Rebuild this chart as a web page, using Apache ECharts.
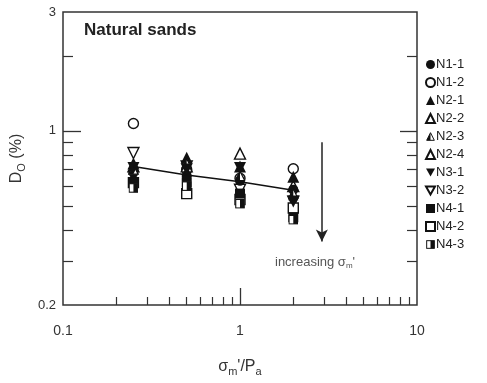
<!DOCTYPE html>
<html><head><meta charset="utf-8">
<script src="https://cdn.jsdelivr.net/npm/echarts@6/dist/echarts.min.js"></script>
<style>html,body{margin:0;padding:0;background:#fff}#c{width:487px;height:383px}</style>
</head><body><div id="c"></div>
<script>
// ---- data ----
const sigma = [0.25, 0.5, 1, 2];
const N1_1 = [0.68, 0.66, 0.63, 0.58];
const N1_2 = [1.07, 0.70, 0.645, 0.705];
const N2_1 = [0.74, 0.78, 0.72, 0.655];
const N2_2 = [0.72, 0.72, 0.81, 0.60];
const N2_3 = [0.70, 0.74, 0.66, 0.56];
const N2_4 = [0.70, 0.68, 0.60, 0.55];
const N3_1 = [0.71, 0.70, 0.71, 0.52];
const N3_2 = [0.815, 0.72, 0.58, 0.52];
const N4_1 = [0.62, 0.62, 0.56, 0.45];
const N4_2 = [0.62, 0.56, 0.53, 0.49];
const N4_3 = [0.59, 0.60, 0.51, 0.44];
const trendX = [0.25, 0.5, 1, 2];
const trendY = [0.72, 0.665, 0.625, 0.578];
const xMajorLabels = [0.1, 1, 10];
const xMinorTicks = [0.2,0.3,0.4,0.5,0.6,0.7,0.8,0.9,2,3,4,5,6,7,8,9];
const yMajorLabels = [0.2, 1, 3];
const yMinorTicks = [0.3,0.4,0.5,0.6,0.7,0.8,0.9,2];
const arrowX = 2.9, arrowTop = 0.90, arrowBottom = 0.36;

const K = '#111';
const FONT = 'Liberation Sans, Arial';
function svg(s){ return 'image://data:image/svg+xml;charset=utf-8,' + encodeURIComponent("<svg xmlns='http://www.w3.org/2000/svg' viewBox='0 0 20 20'>" + s + "</svg>"); }
const halfTri = svg("<polygon points='10,1.5 18.5,18.5 1.5,18.5' fill='white' stroke='#111' stroke-width='2.2'/><polygon points='10,1.5 10,18.5 1.5,18.5' fill='#111'/>");
const halfRect = svg("<rect x='1.5' y='1.5' width='17' height='17' fill='white' stroke='#111' stroke-width='2.2'/><rect x='10' y='1.5' width='8.5' height='17' fill='#111'/>");
const downTri = 'path://M0,0L10,0L5,9Z';

const defs = [
  {name:'N1-1', d:N1_1, sym:'circle', size:10, fill:K},
  {name:'N1-2', d:N1_2, sym:'circle', size:10, fill:'#fff'},
  {name:'N2-1', d:N2_1, sym:'triangle', size:12, fill:K},
  {name:'N2-2', d:N2_2, sym:'triangle', size:11, fill:'#fff'},
  {name:'N2-3', d:N2_3, sym:halfTri, size:11, fill:null},
  {name:'N2-4', d:N2_4, sym:'triangle', size:8, fill:'#fff'},
  {name:'N3-1', d:N3_1, sym:downTri, size:12, fill:K},
  {name:'N3-2', d:N3_2, sym:downTri, size:11, fill:'#fff'},
  {name:'N4-1', d:N4_1, sym:'rect', size:10, fill:K},
  {name:'N4-2', d:N4_2, sym:'rect', size:10, fill:'#fff'},
  {name:'N4-3', d:N4_3, sym:halfRect, size:10, fill:null}
];

const series = defs.map(s => ({
  name: s.name, type: 'scatter', xAxisIndex: 0, yAxisIndex: 0,
  symbol: s.sym, symbolSize: s.size,
  data: sigma.map((x, i) => [x, s.d[i]]),
  itemStyle: s.fill ? {color: s.fill, borderColor: K, borderWidth: s.fill === K ? 0 : 1.4, opacity: 1} : {opacity: 1},
  emphasis: {disabled: true}, z: s.fill === '#fff' ? 2 : 3
}));
series.push({
  type: 'line', xAxisIndex: 0, yAxisIndex: 0, data: trendX.map((x, i) => [x, trendY[i]]),
  symbol: 'none', lineStyle: {color: K, width: 1.5}, z: 4, silent: true,
  markLine: {
    silent: true, symbol: ['none', 'arrow'], symbolSize: [9, 12],
    lineStyle: {color: '#222', width: 1.5, type: 'solid'}, label: {show: false},
    data: [[{coord: [arrowX, arrowTop]}, {coord: [arrowX, arrowBottom]}]]
  }
});

const common = {type: 'log', logBase: 10, min: 0.1, max: 10};
const commonY = {type: 'log', logBase: 10, min: 0.2, max: 3};
const chart = echarts.init(document.getElementById('c'));
chart.setOption({
  animation: false,
  grid: {left: 63, right: 70, top: 12, bottom: 78, show: true, borderColor: '#333', borderWidth: 1.5, backgroundColor: '#fff'},
  xAxis: [
    Object.assign({}, common, {position: 'bottom', splitLine: {show: false}, axisLine: {show: false},
      axisTick: {show: true, inside: true, length: 17, lineStyle: {color: '#333', width: 1.3}, customValues: [1]},
      axisLabel: {customValues: xMajorLabels, color: '#333', fontSize: 14, margin: 19, fontFamily: FONT, formatter: v => String(v)},
      name: '{s|σ}{sub|m}{s|\'/P}{sub|a}', nameLocation: 'middle', nameGap: 52,
      nameTextStyle: {rich: {s: {fontSize: 16, color: '#333', fontFamily: FONT}, sub: {fontSize: 11, color: '#333', verticalAlign: 'bottom', padding: [9, 0, 0, 0], fontFamily: FONT}}}
    }),
    Object.assign({}, common, {position: 'bottom', splitLine: {show: false}, axisLine: {show: false},
      axisTick: {show: true, inside: true, length: 8, lineStyle: {color: '#333', width: 1.2}, customValues: xMinorTicks},
      axisLabel: {show: false}})
  ],
  yAxis: [
    Object.assign({}, commonY, {position: 'left', splitLine: {show: false}, axisLine: {show: false},
      axisTick: {show: true, inside: true, length: 18, lineStyle: {color: '#333', width: 1.3}, customValues: [1]},
      axisLabel: {customValues: yMajorLabels, color: '#333', fontSize: 13, margin: 7, fontFamily: FONT, formatter: v => String(v)},
      name: '{s|D}{sub|O}{s| (%)}', nameLocation: 'middle', nameGap: 28, nameRotate: 90,
      nameTextStyle: {rich: {s: {fontSize: 16, color: '#333', fontFamily: FONT}, sub: {fontSize: 11, color: '#333', padding: [9, 0, 0, 0], fontFamily: FONT}}}
    }),
    Object.assign({}, commonY, {position: 'left', splitLine: {show: false}, axisLine: {show: false},
      axisTick: {show: true, inside: true, length: 10, lineStyle: {color: '#333', width: 1.2}, customValues: yMinorTicks},
      axisLabel: {show: false}}),
    Object.assign({}, commonY, {position: 'right', splitLine: {show: false}, axisLine: {show: false},
      axisTick: {show: true, inside: true, length: 17, lineStyle: {color: '#333', width: 1.3}, customValues: [1]},
      axisLabel: {show: false}}),
    Object.assign({}, commonY, {position: 'right', splitLine: {show: false}, axisLine: {show: false},
      axisTick: {show: true, inside: true, length: 10, lineStyle: {color: '#333', width: 1.2}, customValues: yMinorTicks},
      axisLabel: {show: false}})
  ],
  legend: {
    orient: 'vertical', left: 420, top: 52, itemWidth: 9, itemHeight: 9, itemGap: 3,
    selectedMode: false,
    textStyle: {fontSize: 13, color: '#222', padding: [0, 0, 0, -4], lineHeight: 15, fontFamily: FONT},
    data: defs.map(d => d.name)
  },
  graphic: [
    {type: 'text', left: 84, top: 22, style: {text: 'Natural sands', font: 'bold 17px "Liberation Sans", Arial', fill: '#222'}},
    {type: 'text', left: 275, top: 256, style: {text: '{a|increasing σ}{b|m}{a|\'}', rich: {a: {font: '13px "Liberation Sans", Arial', fill: '#555'}, b: {font: '8px "Liberation Sans", Arial', fill: '#555', padding: [7, 0, 0, 0]}}}}
  ],
  series: series
});
</script></body></html>
